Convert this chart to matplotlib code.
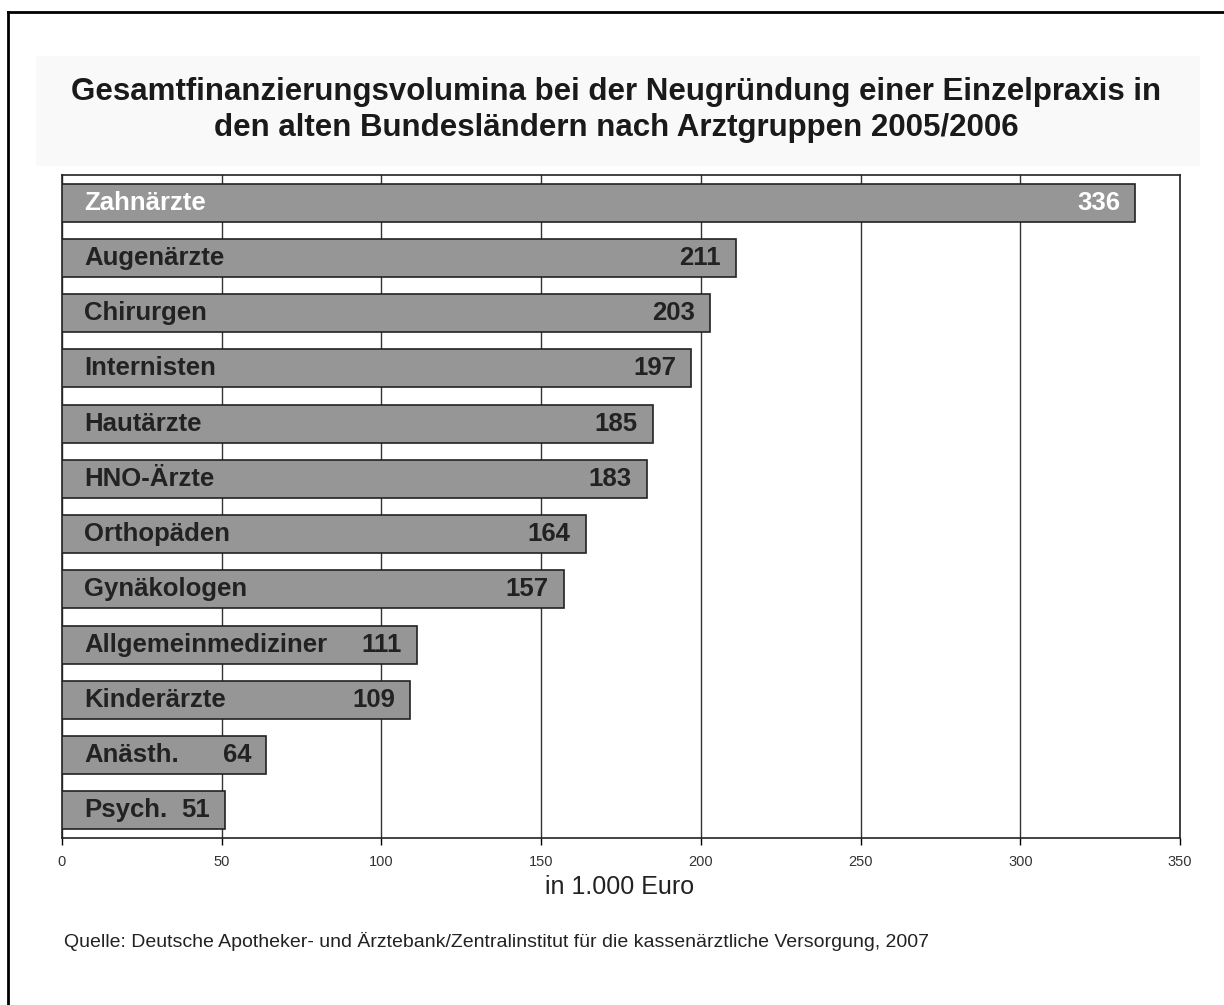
import matplotlib
matplotlib.use("Agg")
import matplotlib.pyplot as plt
from matplotlib.patches import Rectangle
from matplotlib.lines import Line2D

categories = ["Zahnärzte", "Augenärzte", "Chirurgen", "Internisten", "Hautärzte",
              "HNO-Ärzte", "Orthopäden", "Gynäkologen", "Allgemeinmediziner",
              "Kinderärzte", "Anästh.", "Psych."]
values = [336, 211, 203, 197, 185, 183, 164, 157, 111, 109, 64, 51]
xticks = [0, 50, 100, 150, 200, 250, 300, 350]

title = ("Gesamtfinanzierungsvolumina bei der Neugründung einer Einzelpraxis in\n"
         "den alten Bundesländern nach Arztgruppen 2005/2006")
xlabel = "in 1.000 Euro"
source = ("Quelle: Deutsche Apotheker- und Ärztebank/Zentralinstitut für die "
          "kassenärztliche Versorgung, 2007")

plt.rcParams['font.family'] = ['Liberation Sans', 'DejaVu Sans']

fig = plt.figure(figsize=(12.24, 10.05), dpi=100)
fig.patch.set_facecolor('white')

# outer frame (top and left visible)
fig.add_artist(Line2D([8/1224, 8/1224], [0, 1 - 12/1005], transform=fig.transFigure,
                      color='black', lw=2))
fig.add_artist(Line2D([8/1224, 1], [1 - 12/1005, 1 - 12/1005], transform=fig.transFigure,
                      color='black', lw=2))
# faint title background
fig.add_artist(Rectangle((36/1224, 1 - 166/1005), (1200 - 36)/1224, (166 - 56)/1005,
                         transform=fig.transFigure, facecolor='#f9f9f9', edgecolor='none',
                         zorder=0))

fig.text(616/1224, 1 - 110/1005, title, ha='center', va='center', fontsize=22.5,
         fontweight='bold', color='#1a1a1a', linespacing=1.25)

ax = fig.add_axes([62/1224, 1 - 838/1005, (1180 - 62)/1224, (838 - 175)/1005])
ax.set_facecolor('white')
n = len(categories)
ypos = list(range(n))
ax.barh(ypos, values, height=0.69, color='#969696', edgecolor='#222222', linewidth=1.2,
        zorder=3)
ax.set_xlim(0, 350)
ax.set_ylim(n - 0.5, -0.5)
ax.set_xticks(xticks)
ax.set_xticklabels([str(t) for t in xticks], fontsize=10.5, color='#333333')
ax.set_yticks([])
ax.tick_params(axis='x', direction='out', length=5, width=1, pad=7)
ax.grid(axis='x', color='#333333', lw=1, zorder=1)
for s in ax.spines.values():
    s.set_color('#222222')
    s.set_linewidth(1.2)

for i, (c, v) in enumerate(zip(categories, values)):
    col = 'white' if i == 0 else '#222222'
    ax.annotate(c, (0, i), xytext=(16, 0), textcoords='offset points', ha='left',
                va='center', fontsize=18.5, fontweight='bold', color=col, zorder=5)
    ax.annotate(str(v), (v, i), xytext=(-11, 0), textcoords='offset points', ha='right',
                va='center', fontsize=18.5, fontweight='bold', color=col, zorder=5)

fig.text(620/1224, 1 - 887/1005, xlabel, ha='center', va='center', fontsize=18,
         color='#222222')
fig.text(64/1224, 1 - 941/1005, source, ha='left', va='center', fontsize=14,
         color='#222222')

fig.savefig("out.png", dpi=100)
